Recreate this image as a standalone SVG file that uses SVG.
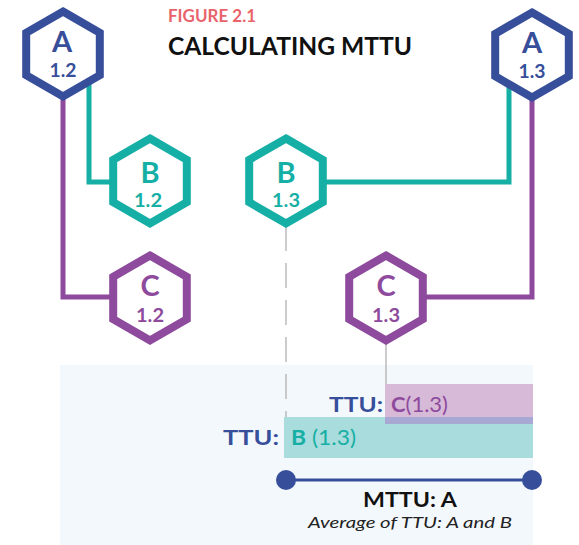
<svg xmlns="http://www.w3.org/2000/svg" width="579" height="545" viewBox="0 0 579 545">
<style>
.hex{fill:#fff;stroke-width:8;stroke-linejoin:miter}
.navy{stroke:#374f9b}.teal{stroke:#16afa5}.purple{stroke:#8e4a9c}
text{font-family:Lato,"Liberation Sans",sans-serif}
.lbl{font-weight:bold;text-anchor:middle}
.big{font-size:29px}.num{font-size:18px}
.conn{fill:none;stroke-width:5}
.dash{fill:none;stroke:#aaaaaa;stroke-width:1.2}
</style>
<defs>
<polygon id="hx" points="0,-42.5 36.8,-21.25 36.8,21.25 0,42.5 -36.8,21.25 -36.8,-21.25"/>
</defs>
<rect x="60" y="365" width="473" height="180" fill="#f3f8fc"/>
<g id="title" font-weight="bold">
<text x="168" y="22" font-size="16.5" fill="#e9636b" textLength="88" lengthAdjust="spacingAndGlyphs">FIGURE 2.1</text>
<text x="168" y="55" font-size="24.5" fill="#111" textLength="244" lengthAdjust="spacingAndGlyphs">CALCULATING MTTU</text>
</g>
<g id="connectors">
<polyline class="conn teal" points="89,80 89,182 112,182"/>
<polyline class="conn purple" points="63,90 63,297 112,297"/>
<polyline class="conn teal" points="509,80 509,182 324,182"/>
<polyline class="conn purple" points="532,90 532,297 424,297"/>
<line class="dash" x1="286" y1="226" x2="286" y2="417" stroke-dasharray="25,12"/>
<line class="dash" x1="386" y1="342" x2="386" y2="384"/>
</g>
<g id="A12"><use href="#hx" x="63" y="54" class="hex navy"/>
<text class="lbl big" x="62" y="52" fill="#374f9b">A</text><text class="lbl num" x="63" y="77" fill="#374f9b" textLength="27" lengthAdjust="spacingAndGlyphs">1.2</text></g>
<g id="A13"><use href="#hx" x="532" y="55" class="hex navy"/>
<text class="lbl big" x="532" y="53" fill="#374f9b">A</text><text class="lbl num" x="532" y="78" fill="#374f9b" textLength="27" lengthAdjust="spacingAndGlyphs">1.3</text></g>
<g id="B12"><use href="#hx" x="150" y="181" class="hex teal"/>
<text class="lbl big" x="150" y="183" fill="#16afa5">B</text><text class="lbl num" x="148" y="207" fill="#16afa5" textLength="28" lengthAdjust="spacingAndGlyphs">1.2</text></g>
<g id="B13"><use href="#hx" x="286" y="181" class="hex teal"/>
<text class="lbl big" x="286" y="183" fill="#16afa5">B</text><text class="lbl num" x="286" y="207" fill="#16afa5" textLength="28" lengthAdjust="spacingAndGlyphs">1.3</text></g>
<g id="C12"><use href="#hx" x="150" y="298" class="hex purple"/>
<text class="lbl big" x="150" y="296" fill="#8e4a9c">C</text><text class="lbl num" x="150" y="322" fill="#8e4a9c" textLength="28" lengthAdjust="spacingAndGlyphs">1.2</text></g>
<g id="C13"><use href="#hx" x="386" y="298" class="hex purple"/>
<text class="lbl big" x="386" y="296" fill="#8e4a9c">C</text><text class="lbl num" x="386" y="322" fill="#8e4a9c" textLength="28" lengthAdjust="spacingAndGlyphs">1.3</text></g>
<g id="bars">
<rect x="385" y="384" width="148" height="33" fill="#d7b9d8"/>
<rect x="284" y="417" width="249" height="41" fill="#a9dcdc"/>
<rect x="385" y="417" width="148" height="7" fill="#a8a8d5"/>
<text x="329" y="412" font-size="21" font-weight="bold" fill="#374f9b" textLength="54" lengthAdjust="spacingAndGlyphs">TTU:</text>
<text x="391" y="412" font-size="21" fill="#8e4a9c" textLength="57" lengthAdjust="spacingAndGlyphs"><tspan font-weight="bold">C</tspan>(1.3)</text>
<text x="223" y="445" font-size="21" font-weight="bold" fill="#374f9b" textLength="56" lengthAdjust="spacingAndGlyphs">TTU:</text>
<text x="291" y="445" font-size="21" fill="#16afa5" textLength="65" lengthAdjust="spacingAndGlyphs"><tspan font-weight="bold">B</tspan> (1.3)</text>
</g>
<g id="mttu">
<line x1="286" y1="480" x2="532" y2="480" stroke="#374f9b" stroke-width="3"/>
<circle cx="286" cy="480" r="10" fill="#374f9b"/>
<circle cx="532" cy="480" r="10" fill="#374f9b"/>
<text x="363" y="507" font-size="21" font-weight="bold" fill="#111" textLength="94" lengthAdjust="spacingAndGlyphs">MTTU: A</text>
<text x="308" y="528" font-size="15" font-style="italic" fill="#222" textLength="204" lengthAdjust="spacingAndGlyphs">Average of TTU: A and B</text>
</g>
</svg>
